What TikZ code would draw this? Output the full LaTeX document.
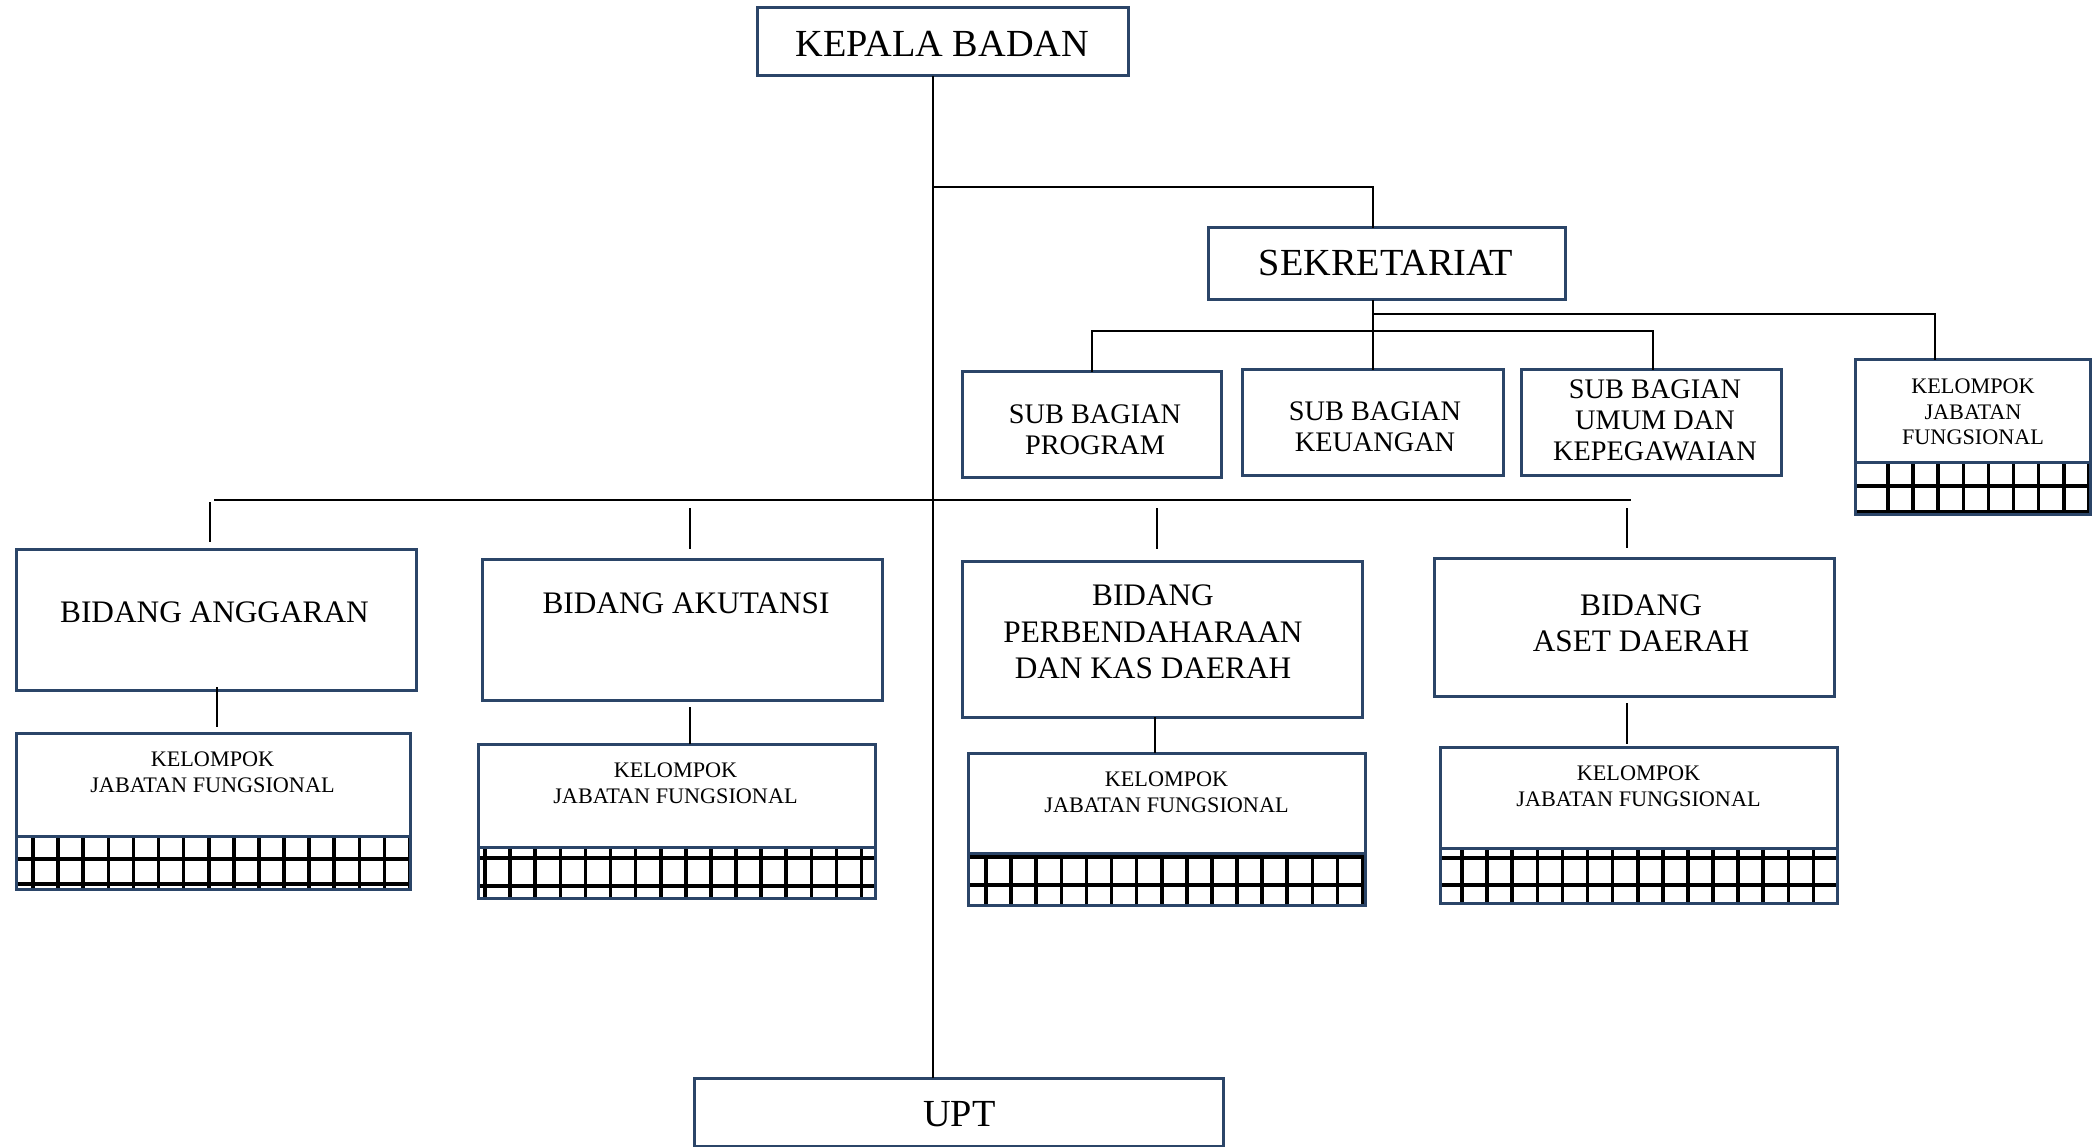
\documentclass[tikz,border=0pt]{standalone}
\usepackage{fontspec}
\setmainfont{Liberation Serif}
\usetikzlibrary{calc}
\definecolor{navy}{HTML}{2B4568}
\tikzset{
  box/.style={draw=navy, line width=3pt, fill=white, inner sep=0pt, outer sep=0pt},
  boxline/.style={draw=navy, line width=3pt},
  conn/.style={draw=black, line width=2.4pt},
  gridln/.style={draw=black, line width=3.6pt},
  bigtxt/.style={font=\fontsize{38.3}{44}\selectfont, inner sep=0pt, align=center},
  midtxt/.style={font=\fontsize{31.3}{36.5}\selectfont, inner sep=0pt, align=center},
  sbtxt/.style={font=\fontsize{28.3}{31}\selectfont, inner sep=0pt, align=center},
  smalltxt/.style={font=\fontsize{22.2}{25.5}\selectfont, inner sep=0pt, align=center},
}
% name, x1, y1, x2, y2
\newcommand{\orgbox}[5]{%
  \node[box, minimum width={#4-#2}, minimum height={#5-#3}] (#1) at ({(#2+#4)/2},{(#3+#5)/2}) {};}
% left, right, gridtop, bottom, h1, h2, vstart
\newcommand{\kjfgrid}[7]{%
  \begin{scope}
    \clip (#1,#3) rectangle (#2,#4);
    \pgfmathsetmacro{\vsec}{#7+25.1}
    \foreach \gx in {#7,\vsec,...,#2} \draw[gridln] (\gx,#3) -- (\gx,#4);
    \draw[gridln] (#1,#5) -- (#2,#5);
    \draw[gridln] (#1,#6) -- (#2,#6);
  \end{scope}
  \draw[boxline] (#1,#3) -- (#2,#3);}
\begin{document}
\begin{tikzpicture}[x=1pt, y=-1pt]
\useasboundingbox (0,0) rectangle (2094,1147);
\fill[white] (0,0) rectangle (2094,1147);

% ---------- connector anchor points ----------
\coordinate (tr) at (933,0);
\coordinate (b1) at (933,187);
\coordinate (b2) at (1373,187);
\coordinate (c1) at (1373,314);
\coordinate (c2) at (1935,314);
\coordinate (d1) at (1092,331);
\coordinate (d2) at (1653,331);
\coordinate (h1) at (214,500);
\coordinate (h2) at (1631,500);
\coordinate (u1) at (210,502);
\coordinate (u2) at (690,508);
\coordinate (u3) at (1157,508);
\coordinate (u4) at (1627,508);
\coordinate (l1) at (217,0);
\coordinate (l2) at (690,0);
\coordinate (l3) at (1155,0);
\coordinate (l4) at (1627,0);

% ---------- boxes ----------
\orgbox{kb}{757}{8}{1128}{76}
\orgbox{sek}{1208}{228}{1565}{300}
\orgbox{sbp}{962}{372}{1221}{477}
\orgbox{sbk}{1242}{370}{1503}{475}
\orgbox{sbu}{1521}{370}{1781}{475}
\orgbox{k5}{1855}{360}{2090}{514}
\orgbox{ang}{16}{549}{416}{690}
\orgbox{aku}{482}{559}{882}{700}
\orgbox{bpkd}{962}{561}{1362}{717}
\orgbox{aset}{1434}{558}{1834}{696}
\orgbox{k1}{16}{733}{410}{889}
\orgbox{k2}{478}{744}{875}{898}
\orgbox{k3}{968}{753}{1365}{905}
\orgbox{k4}{1440}{747}{1837}{903}
\orgbox{upt}{694}{1078}{1223}{1146}

% ---------- grids of the functional groups ----------
\kjfgrid{16}{410}{836}{889}{859}{884}{33}
\kjfgrid{478}{875}{847}{898}{858}{886}{485}
\kjfgrid{968}{1365}{853}{905}{857}{885}{986}
\kjfgrid{1440}{1837}{848}{903}{858}{885}{1462}
\kjfgrid{1855}{2090}{462}{514}{486}{512}{1888}
\foreach \k in {k1,k2,k3,k4,k5}
  \draw[boxline] (\k.north west) rectangle (\k.south east);

% ---------- connector lines ----------
\draw[conn] (tr |- kb.south) -- (tr |- upt.north);
\draw[conn] (b1) -- (b2) -- (b2 |- sek.north);
\draw[conn] (b2 |- sek.south) -- (b2 |- sbk.north);
\draw[conn] (c1) -- (c2) -- (c2 |- k5.north);
\draw[conn] (d1 |- sbp.north) -- (d1) -- (d2) -- (d2 |- sbu.north);
\draw[conn] (h1) -- (h2);
\draw[conn, shorten >=7pt] (u1) -- (u1 |- ang.north);
\draw[conn, shorten >=10pt] (u2) -- (u2 |- aku.north);
\draw[conn, shorten >=12pt] (u3) -- (u3 |- bpkd.north);
\draw[conn, shorten >=10pt] (u4) -- (u4 |- aset.north);
\draw[conn, shorten <=-3pt, shorten >=6pt] (l1 |- ang.south) -- (l1 |- k1.north);
\draw[conn, shorten <=7pt] (l2 |- aku.south) -- (l2 |- k2.north);
\draw[conn] (l3 |- bpkd.south) -- (l3 |- k3.north);
\draw[conn, shorten <=7pt, shorten >=3pt] (l4 |- aset.south) -- (l4 |- k4.north);

% ---------- texts ----------
\node[bigtxt] (t-kb) at (942.5,44) {KEPALA BADAN};
\node[bigtxt] (t-sek) at (1386,263) {SEKRETARIAT};
\node[sbtxt] (t-sbp) at (1095,430) {SUB BAGIAN\\PROGRAM};
\node[sbtxt] (t-sbk) at (1375,427) {SUB BAGIAN\\KEUANGAN};
\node[sbtxt] (t-sbu) at (1655,420) {SUB BAGIAN\\UMUM DAN\\KEPEGAWAIAN};
\node[smalltxt] (t-k5) at (1973,412) {KELOMPOK\\JABATAN\\FUNGSIONAL};
\node[midtxt] (t-ang) at (214.5,612) {BIDANG ANGGARAN};
\node[midtxt] (t-aku) at (686,603) {BIDANG AKUTANSI};
\node[midtxt] (t-bpkd) at (1153,632) {BIDANG\\PERBENDAHARAAN\\DAN KAS DAERAH};
\node[midtxt] (t-aset) at (1641,623.5) {BIDANG\\ASET DAERAH};
\node[smalltxt] (t-k1) at (212.5,772.5) {KELOMPOK\\JABATAN FUNGSIONAL};
\node[smalltxt] (t-k2) at (675.5,783.5) {KELOMPOK\\JABATAN FUNGSIONAL};
\node[smalltxt] (t-k3) at (1166.5,792.5) {KELOMPOK\\JABATAN FUNGSIONAL};
\node[smalltxt] (t-k4) at (1638.5,786.5) {KELOMPOK\\JABATAN FUNGSIONAL};
\node[bigtxt] (t-upt) at (959.5,1114) {UPT};
\end{tikzpicture}
\end{document}
